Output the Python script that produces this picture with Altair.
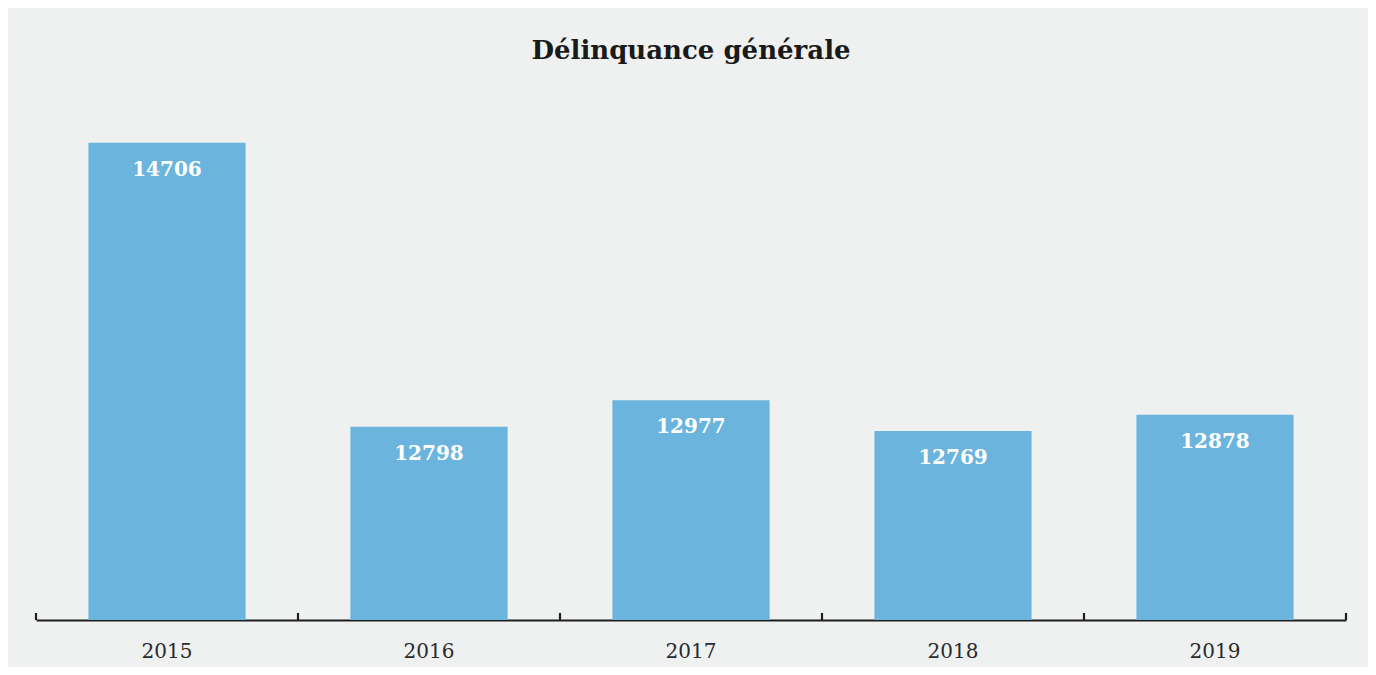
import altair as alt
import pandas as pd

years = ["2015", "2016", "2017", "2018", "2019"]
values = [14706, 12798, 12977, 12769, 12878]
title = "Délinquance générale"

df = pd.DataFrame({"year": years, "value": values})

Y_MIN, Y_MAX = 11500, 15000
W, H = 1310, 521
SERIF = "DejaVu Serif"

x_enc = alt.X("year:N", sort=years,
              scale=alt.Scale(paddingInner=0, paddingOuter=0),
              axis=alt.Axis(title=None, labelAngle=0, ticks=False, domainColor="#1e1e1e",
                            domainWidth=2.2, labelFont=SERIF, labelFontSize=20,
                            labelColor="#2a2a2a", labelPadding=21, grid=False))
y_scale = alt.Scale(domain=[Y_MIN, Y_MAX], zero=False, nice=False)

base = alt.Chart(df)

bars = base.mark_bar(color="#6ab4de", width=alt.RelativeBandSize(0.6)).encode(
    x=x_enc,
    y=alt.Y("value:Q", scale=y_scale, axis=None),
    y2=alt.datum(Y_MIN),
)

labels = base.mark_text(baseline="top", dy=17, color="white", font=SERIF,
                        fontSize=20, fontWeight="bold").encode(
    x=alt.X("year:N", sort=years),
    y=alt.Y("value:Q", scale=y_scale),
    text="value:Q",
)

ticks_left = base.mark_rule(color="#1e1e1e", strokeWidth=2.2).encode(
    x=alt.X("year:N", sort=years, bandPosition=0),
    y=alt.value(H - 7),
    y2=alt.value(H),
)
ticks_right = base.transform_filter(alt.datum.year == years[-1]).mark_rule(
    color="#1e1e1e", strokeWidth=2.2).encode(
    x=alt.X("year:N", sort=years, bandPosition=1),
    y=alt.value(H - 7),
    y2=alt.value(H),
)

chart = alt.layer(bars, labels, ticks_left, ticks_right).properties(
    width=W, height=H,
    title=alt.TitleParams(title, font=SERIF, fontSize=26, fontWeight="bold",
                          color="#1a1a1a", anchor="middle", offset=35),
    background="#eff1f0",
    padding={"left": 28, "top": 91, "right": 22, "bottom": 47},
    autosize=alt.AutoSizeParams(type="none"),
).configure_view(stroke=None)

chart.save("out.html", embed_options={"renderer": "svg", "actions": False})
